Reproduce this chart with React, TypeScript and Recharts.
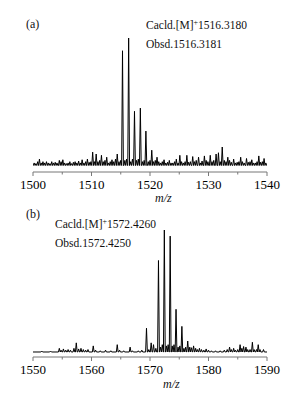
import React from "react";
import { LineChart, Line, XAxis, YAxis } from "recharts";

// Panel (a) spectrum peaks: m/z and relative intensity
const mzA = [
  1500.2, 1500.5, 1500.8, 1501.1, 1501.4, 1501.7, 1502.0, 1502.3, 1502.6, 1502.9,
  1503.2, 1503.5, 1503.8, 1504.1, 1504.5, 1504.8, 1505.1, 1505.4, 1505.7, 1506.0,
  1506.3, 1506.6, 1506.9, 1507.2, 1507.5, 1507.8, 1508.1, 1508.4, 1508.7, 1509.0,
  1509.3, 1509.6, 1509.9, 1510.2, 1510.5, 1510.8, 1511.1, 1511.4, 1511.7, 1512.0,
  1512.3, 1512.6, 1512.9, 1513.2, 1513.5, 1513.8, 1514.1, 1514.4, 1514.7, 1515.0,
  1515.3, 1515.7, 1516.0, 1516.35, 1516.7, 1517.0, 1517.35, 1517.7, 1518.0, 1518.35,
  1518.7, 1519.0, 1519.3, 1519.7, 1520.0, 1520.3, 1520.6, 1520.9, 1521.2, 1521.5,
  1521.8, 1522.1, 1522.4, 1522.7, 1523.0, 1523.3, 1523.6, 1523.9, 1524.2, 1524.5,
  1524.8, 1525.1, 1525.4, 1525.7, 1526.0, 1526.3, 1526.6, 1526.9, 1527.3, 1527.6,
  1527.9, 1528.3, 1528.6, 1528.9, 1529.3, 1529.6, 1529.9, 1530.3, 1530.6, 1530.9,
  1531.3, 1531.7, 1532.0, 1532.35, 1532.7, 1533.0, 1533.3, 1533.6, 1533.9, 1534.3,
  1534.6, 1534.9, 1535.2, 1535.5, 1535.8, 1536.1, 1536.5, 1536.8, 1537.1, 1537.4,
  1537.7, 1538.0, 1538.3, 1538.6, 1538.9, 1539.2, 1539.5, 1539.8,
];
const intA = [
  2, 1.5, 3, 5, 2, 3, 2, 3, 2, 1.5,
  3, 2, 2.5, 2, 4, 3, 4.5, 2, 1.5, 2,
  3, 1.5, 2.5, 3, 2, 3.5, 2, 4.5, 2, 3,
  5, 2.5, 3, 10.5, 3, 9, 3, 4, 8, 3,
  4, 6.5, 2, 3, 4.5, 3, 5, 9, 3, 4,
  90, 4, 5, 100, 3, 5, 42.5, 4, 5, 45,
  3, 4, 27, 3, 4, 12, 3, 4, 6.5, 3,
  2, 3, 4.5, 2, 2.5, 4, 2, 2, 3, 5,
  2, 8, 3, 2, 3, 8, 2.5, 3, 7, 3,
  4, 6.5, 2, 3.5, 7.5, 4, 3, 8, 3, 4,
  9, 10, 3, 14.5, 4, 3, 6.5, 4, 2.5, 5,
  2, 2.5, 3, 6.5, 3, 2, 5.5, 2.5, 3, 4.5,
  2, 2, 3, 7.5, 2.5, 3, 5.5, 2,
];

// Panel (b) spectrum peaks
const mzB = [
  1551.5, 1553.0, 1554.5, 1554.8, 1555.2, 1555.6, 1556.0, 1556.4, 1557.0, 1557.4,
  1557.8, 1558.2, 1558.6, 1559.0, 1559.4, 1560.3, 1560.7, 1561.5, 1562.4, 1563.3,
  1564.4, 1564.8, 1565.5, 1566.6, 1567.0, 1568.0, 1568.6, 1569.4, 1569.8, 1570.2,
  1570.6, 1571.0, 1571.45, 1571.8, 1572.1, 1572.45, 1572.8, 1573.1, 1573.45, 1573.8,
  1574.1, 1574.45, 1574.8, 1575.1, 1575.45, 1575.8, 1576.1, 1576.45, 1576.8, 1577.1,
  1577.45, 1577.8, 1578.1, 1578.45, 1578.8, 1579.2, 1579.6, 1580.0, 1580.5, 1581.2,
  1582.0, 1582.7, 1583.2, 1583.6, 1583.9, 1584.3, 1584.6, 1585.0, 1585.4, 1585.7,
  1586.0, 1586.4, 1586.7, 1587.1, 1587.5, 1587.8, 1588.2, 1588.5, 1588.8, 1589.4,
];
const intB = [
  0.8, 0.8, 3, 1.5, 2.5, 1.5, 2, 1.5, 3, 7.5,
  2.5, 3, 2, 1.5, 2, 5, 1.5, 1, 1.5, 1,
  6, 1.5, 1, 4, 1, 1, 1.5, 19.5, 2, 7.5,
  6, 3, 75, 4, 6, 100, 5, 6, 95, 5,
  6, 35, 4, 5, 21, 3, 4, 9, 4, 3.5,
  5, 3, 2, 3, 2, 1.5, 2.5, 1.5, 1, 1,
  1, 1.5, 2, 4, 2, 3, 1.5, 2, 6, 3,
  4.5, 4, 2, 2, 8, 2, 2, 6, 2, 2,
];

const ticksA = [1500, 1505, 1510, 1515, 1520, 1525, 1530, 1535, 1540];
const ticksB = [1550, 1555, 1560, 1565, 1570, 1575, 1580, 1585, 1590];

const HALF = 0.15;

function buildLine(mz: number[], inten: number[], lo: number, hi: number) {
  const pts: { x: number; y: number }[] = [{ x: lo, y: 0 }];
  mz.forEach((m, i) => {
    pts.push({ x: m - HALF, y: 0 });
    pts.push({ x: m, y: inten[i] });
    pts.push({ x: m + HALF, y: 0 });
  });
  pts.push({ x: hi, y: 0 });
  return pts;
}

const dataA = buildLine(mzA, intA, 1500, 1540);
const dataB = buildLine(mzB, intB, 1550, 1590);

const FONT = "'Liberation Serif', 'Times New Roman', serif";

const Tick = (props: any) => {
  const { x, y, payload } = props;
  const v = payload.value as number;
  const major = v % 10 === 0;
  return (
    <g>
      <line x1={x} x2={x} y1={y} y2={y + (major ? 4 : 2.5)} stroke="#777" strokeWidth={1} />
      {major && (
        <text x={x} y={y + 17} textAnchor="middle" fontSize={13} fontFamily={FONT} fill="#000">
          {v}
        </text>
      )}
    </g>
  );
};

const txt: React.CSSProperties = {
  position: "absolute",
  fontFamily: FONT,
  fontSize: 11.5,
  lineHeight: "12px",
  color: "#111",
  whiteSpace: "nowrap",
};

const sup: React.CSSProperties = { fontSize: 8, position: "relative", top: -4 };

export default function App() {
  return (
    <div style={{ position: "absolute", left: 0, top: 0, width: 290, height: 398, background: "#fff", overflow: "hidden" }}>
      <div style={{ position: "absolute", left: 0, top: 0 }}>
        <LineChart width={290} height={200} data={dataA} margin={{ top: 38, right: 23, bottom: 0, left: 33 }}>
          <XAxis
            type="number"
            dataKey="x"
            domain={[1500, 1540]}
            ticks={ticksA}
            allowDataOverflow
            height={28}
            tickSize={0}
            tickMargin={0}
            tick={<Tick />}
            tickLine={false}
            axisLine={{ stroke: "#777", strokeWidth: 1 }}
            interval={0}
          />
          <YAxis hide domain={[-5.1, 100]} allowDataOverflow />
          <Line type="linear" dataKey="y" stroke="#000" strokeWidth={1} dot={false} isAnimationActive={false} />
        </LineChart>
      </div>
      <div style={{ position: "absolute", left: 0, top: 200 }}>
        <LineChart width={290} height={198} data={dataB} margin={{ top: 30, right: 23, bottom: 0, left: 33 }}>
          <XAxis
            type="number"
            dataKey="x"
            domain={[1550, 1590]}
            ticks={ticksB}
            allowDataOverflow
            height={41}
            tickSize={0}
            tickMargin={0}
            tick={<Tick />}
            tickLine={false}
            axisLine={{ stroke: "#777", strokeWidth: 1 }}
            interval={0}
          />
          <YAxis hide domain={[-4.1, 100]} allowDataOverflow />
          <Line type="linear" dataKey="y" stroke="#000" strokeWidth={1} dot={false} isAnimationActive={false} />
        </LineChart>
      </div>

      <div style={{ ...txt, left: 26, top: 18, fontSize: 12 }}>(a)</div>
      <div style={{ ...txt, left: 146, top: 19 }}>
        Cacld.[M]<span style={sup}>+</span>1516.3180
      </div>
      <div style={{ ...txt, left: 146, top: 38 }}>Obsd.1516.3181</div>
      <div style={{ ...txt, left: 155, top: 192, fontSize: 12, fontStyle: "italic" }}>m/z</div>

      <div style={{ ...txt, left: 26, top: 208, fontSize: 12 }}>(b)</div>
      <div style={{ ...txt, left: 55, top: 218 }}>
        Cacld.[M]<span style={sup}>+</span>1572.4260
      </div>
      <div style={{ ...txt, left: 55, top: 237 }}>Obsd.1572.4250</div>
      <div style={{ ...txt, left: 163, top: 378, fontSize: 12, fontStyle: "italic" }}>m/z</div>
    </div>
  );
}
